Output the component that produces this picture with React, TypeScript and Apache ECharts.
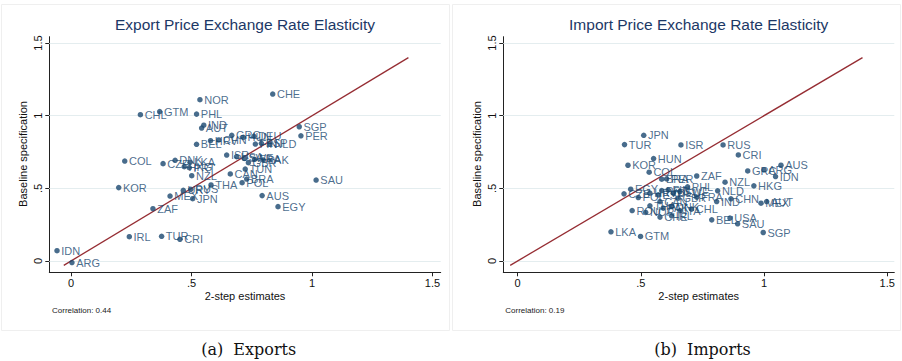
import React, { useEffect, useRef } from 'react';
import * as echarts from 'echarts';

// ---- Exports panel data ----
const EXPORT_NAMES = ['CHE','NOR','GTM','CHL','PHL','IND','AUT','SGP','PER','GRC','BEL','HRV','CHN','HUN','DEU','FIN','ESP','NLD','ISR','USA','SWE','GBR','FRA','PAK','TUN','CAN','BRA','POL','THA','SAU','AUS','EGY','COL','CZE','DNK','LKA','HKG','PRT','NZL','KOR','MEX','URY','RUS','JPN','ZAF','IRL','TUR','CRI','IDN','ARG'];
const EXPORT_X = [0.837,0.535,0.368,0.288,0.521,0.551,0.542,0.947,0.954,0.667,0.521,0.579,0.613,0.715,0.759,0.765,0.790,0.826,0.646,0.687,0.719,0.736,0.762,0.798,0.723,0.661,0.729,0.710,0.581,1.017,0.793,0.859,0.223,0.382,0.432,0.494,0.470,0.491,0.501,0.198,0.411,0.466,0.497,0.505,0.340,0.242,0.376,0.452,-0.058,0.004];
const EXPORT_Y = [1.149,1.110,1.028,1.007,1.011,0.935,0.915,0.924,0.862,0.865,0.803,0.828,0.833,0.851,0.858,0.805,0.810,0.805,0.729,0.718,0.706,0.677,0.700,0.695,0.633,0.599,0.564,0.539,0.523,0.557,0.450,0.374,0.688,0.670,0.693,0.679,0.649,0.642,0.587,0.505,0.447,0.486,0.493,0.429,0.360,0.167,0.170,0.149,0.071,-0.011];

// ---- Imports panel data ----
const IMPORT_NAMES = ['JPN','TUR','ISR','RUS','CRI','HUN','KOR','AUS','COL','GRC','ARG','IDN','ZAF','NZL','HKG','NLD','CHN','IND','MEX','AUT','BEL','USA','SAU','SGP','LKA','GTM','CHL','BRA','PER','PHL','EGY','CZE','POL','HRV','ESP','PRT','FIN','DEU','SWE','FRA','GBR','CAN','THA','PAK','DNK','ITA','ROU','NOR','CHE','IRL'];
const IMPORT_X = [0.512,0.434,0.663,0.834,0.896,0.552,0.448,1.069,0.534,0.934,1.000,1.047,0.727,0.842,0.959,0.812,0.866,0.808,0.988,1.011,0.788,0.862,0.893,0.997,0.379,0.499,0.706,0.585,0.605,0.690,0.459,0.432,0.490,0.537,0.571,0.585,0.611,0.632,0.659,0.727,0.652,0.578,0.537,0.591,0.625,0.659,0.465,0.520,0.578,0.625];
const IMPORT_Y = [0.865,0.801,0.799,0.799,0.730,0.705,0.659,0.659,0.611,0.620,0.627,0.581,0.585,0.542,0.517,0.483,0.428,0.409,0.398,0.409,0.283,0.295,0.256,0.196,0.201,0.169,0.357,0.563,0.565,0.510,0.494,0.462,0.437,0.467,0.455,0.485,0.489,0.467,0.478,0.439,0.432,0.409,0.380,0.364,0.375,0.347,0.347,0.334,0.302,0.311];

const TICKS = [0, 0.5, 1, 1.5];
const TICK_LABELS = ['0', '.5', '1', '1.5'];
const DIAG = [-0.03, 1.40];
const CORRELATIONS = ['Correlation: 0.44', 'Correlation: 0.19'];
const TITLES = ['Export Price Exchange Rate Elasticity', 'Import Price Exchange Rate Elasticity'];
const CAPTIONS = ['(a)  Exports', '(b)  Imports'];

const NAVY = '#1a476f';
const MAROON = '#962d33';
const GRID = '#e4edef';
const FONT = '"Liberation Sans", Arial, sans-serif';

function fmtTick(v: number) {
  const i = TICKS.indexOf(Math.round(v * 100) / 100);
  return i >= 0 ? TICK_LABELS[i] : '';
}

export default function App() {
  const ref = useRef<HTMLDivElement>(null);
  useEffect(() => {
    if (!ref.current) return;
    const chart = echarts.init(ref.current, null, { renderer: 'svg' });

    const panels = [
      { left: 49.3, width: 391.4, xmin: -0.09, xmax: 1.534, names: EXPORT_NAMES, xs: EXPORT_X, ys: EXPORT_Y },
      { left: 503.3, width: 391, xmin: -0.058, xmax: 1.529, names: IMPORT_NAMES, xs: IMPORT_X, ys: IMPORT_Y },
    ];
    const top = 36.7, height = 235.6, ymin = -0.078, ymax = 1.544;

    const grid = panels.map(p => ({ left: p.left, top, width: p.width, height, containLabel: false }));
    const xAxis = panels.map((p, i) => ({
      type: 'value', gridIndex: i, min: p.xmin, max: p.xmax,
      axisLine: { show: true, onZero: false, lineStyle: { color: '#222', width: 1 } },
      axisTick: { show: true, length: 4, customValues: TICKS, lineStyle: { color: '#222' } },
      axisLabel: { show: true, customValues: TICKS, formatter: fmtTick, margin: 5, color: '#111', fontSize: 11, fontFamily: FONT },
      splitLine: { show: false },
    }));
    const yAxis = panels.map((p, i) => ({
      type: 'value', gridIndex: i, min: ymin, max: ymax,
      axisLine: { show: true, onZero: false, lineStyle: { color: '#222', width: 1 } },
      axisTick: { show: true, length: 4, customValues: TICKS, lineStyle: { color: '#222' } },
      axisLabel: { show: true, customValues: TICKS, formatter: fmtTick, rotate: 90, margin: 6, color: '#111', fontSize: 11, fontFamily: FONT },
      splitLine: { show: false },
    }));

    const series: any[] = [];
    panels.forEach((p, i) => {
      series.push({
        type: 'line', xAxisIndex: i, yAxisIndex: i, data: [], z: 1, silent: true,
        markLine: {
          silent: true, symbol: 'none', label: { show: false }, z: 1,
          lineStyle: { color: GRID, width: 1, type: 'solid' },
          data: TICKS.map(t => ({ yAxis: t })),
        },
      });
      series.push({
        type: 'line', xAxisIndex: i, yAxisIndex: i, z: 2, silent: true, symbol: 'none',
        data: DIAG.map(d => [d, d]),
        lineStyle: { color: MAROON, width: 1.3 },
      });
      series.push({
        type: 'scatter', xAxisIndex: i, yAxisIndex: i, z: 3,
        symbol: 'circle', symbolSize: 5.5,
        itemStyle: { color: NAVY },
        data: p.names.map((n, k) => [p.xs[k], p.ys[k], n]),
        label: {
          show: true, position: 'right', distance: 1.5,
          formatter: (q: any) => q.data[2],
          color: NAVY, fontSize: 11, fontFamily: FONT,
        },
        labelLayout: { hideOverlap: false },
      });
    });

    const centers = [245, 698.7];
    const graphic: any[] = [];
    [0, 1].forEach(i => {
      const bx = i === 0 ? 1 : 452;
      graphic.push({ type: 'rect', shape: { x: bx + 0.5, y: 4.5, width: 448, height: 326 }, style: { fill: 'none', stroke: '#efefef', lineWidth: 1 }, z: -1 });
      graphic.push({ type: 'text', x: centers[i], y: 24, style: { text: TITLES[i], align: 'center', verticalAlign: 'middle', textAlign: 'center', textVerticalAlign: 'middle', fill: '#1c3866', fontSize: 15.5, fontFamily: FONT } });
      graphic.push({ type: 'text', x: i === 0 ? 23 : 476.7, y: 154, rotation: Math.PI / 2, style: { text: 'Baseline specification', align: 'center', verticalAlign: 'middle', textAlign: 'center', textVerticalAlign: 'middle', fill: '#111', fontSize: 11, fontFamily: FONT } });
      graphic.push({ type: 'text', x: centers[i], y: 295.5, style: { text: '2-step estimates', align: 'center', verticalAlign: 'middle', textAlign: 'center', textVerticalAlign: 'middle', fill: '#111', fontSize: 11, fontFamily: FONT } });
      graphic.push({ type: 'text', x: i === 0 ? 52 : 505.3, y: 310.5, style: { text: CORRELATIONS[i], align: 'left', verticalAlign: 'middle', textAlign: 'left', textVerticalAlign: 'middle', fill: '#222', fontSize: 8, fontFamily: FONT } });
      graphic.push({ type: 'text', x: i === 0 ? 248.7 : 702.5, y: 349, style: { text: CAPTIONS[i], align: 'center', verticalAlign: 'middle', textAlign: 'center', textVerticalAlign: 'middle', fill: '#111', fontSize: 16, fontFamily: '"DejaVu Serif", serif' } });
    });

    chart.setOption({
      animation: false,
      backgroundColor: '#ffffff',
      grid, xAxis, yAxis, series, graphic,
    });
    return () => chart.dispose();
  }, []);
  return <div ref={ref} style={{ position: 'absolute', left: 0, top: 0, width: 902, height: 361 }} />;
}
